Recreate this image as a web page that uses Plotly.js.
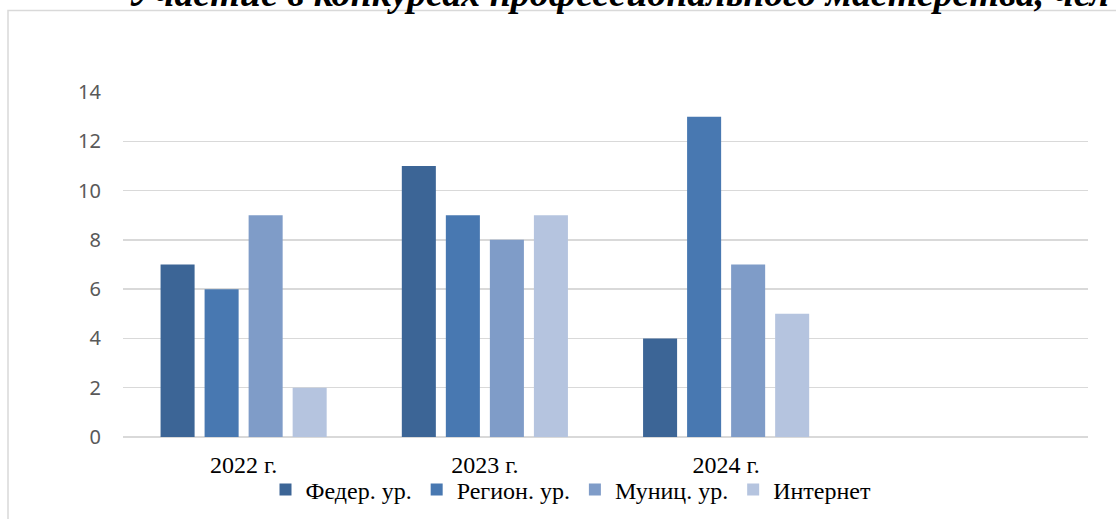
<!DOCTYPE html>
<html>
<head>
<meta charset="utf-8">
<script src="https://cdn.plot.ly/plotly-3.0.1.min.js"></script>
<style>html,body{margin:0;padding:0;background:#fff;}#chart{width:1116px;height:519px;}</style>
</head>
<body>
<div id="chart"></div>
<script>
const categories = ['2022 г.', '2023 г.', '2024 г.'];
const seriesNames = ['Федер. ур.', 'Регион. ур.', 'Муниц. ур.', 'Интернет'];
const federal = [7, 11, 4];
const regional = [6, 9, 13];
const municipal = [9, 8, 7];
const internet = [2, 9, 5];
const colors = ['#3c6596', '#4878b1', '#7f9cc8', '#b5c4df'];
const titleText = 'Участие в конкурсах профессионального мастерства, чел';

const values = [federal, regional, municipal, internet];
const traces = values.map((v, i) => ({
  type: 'bar',
  name: seriesNames[i],
  x: categories,
  y: v,
  marker: {color: colors[i]},
  hoverinfo: 'none'
}));

const L = 123, R = 1088, T = 92, B = 437, W = 1116, H = 519;
const pw = R - L, ph = B - T;
const px = v => (v - L) / pw;
const py = v => (B - v) / ph;

const layout = {
  width: W, height: H,
  margin: {l: L, r: W - R, t: T, b: H - B, pad: 0, autoexpand: false},
  paper_bgcolor: '#ffffff',
  plot_bgcolor: '#ffffff',
  barmode: 'group',
  bargap: 0.27,
  bargroupgap: 0.227,
  showlegend: true,
  legend: {
    orientation: 'h',
    x: px(571), xanchor: 'center',
    y: py(490), yanchor: 'middle',
    font: {family: 'Liberation Serif', size: 24, color: '#000'},
    itemwidth: 30,
    tracegroupgap: 0,
    bgcolor: 'rgba(0,0,0,0)'
  },
  xaxis: {
    type: 'category',
    range: [-0.5, 3.5],
    automargin: false,
    showgrid: false,
    zeroline: false,
    showline: false,
    ticks: '',
    ticklabelstandoff: 11,
    tickfont: {family: 'Liberation Serif', size: 24, color: '#000'},
    fixedrange: true
  },
  yaxis: {
    range: [0, 14],
    dtick: 2,
    tick0: 0,
    automargin: false,
    showgrid: true,
    gridcolor: '#d9d9d9',
    gridwidth: 1.5,
    zeroline: true,
    zerolinecolor: '#d9d9d9',
    zerolinewidth: 1.5,
    showline: false,
    ticks: '',
    ticklabelstandoff: 21,
    tickfont: {family: 'Noto Sans', size: 20, color: '#595959'},
    fixedrange: true
  },
  shapes: [{
    type: 'rect', xref: 'paper', yref: 'paper',
    x0: px(8), x1: px(1130), y0: py(530), y1: py(10.5),
    line: {color: '#d9d9d9', width: 1.5},
    fillcolor: 'rgba(0,0,0,0)', layer: 'below'
  }],
  annotations: [{
    text: '<b><i>' + titleText + '</i></b>',
    xref: 'paper', yref: 'paper',
    x: px(618), xanchor: 'center',
    y: py(-7), yanchor: 'middle',
    showarrow: false,
    font: {family: 'Liberation Serif', size: 38, color: '#000'}
  }]
};

Plotly.newPlot('chart', traces, layout, {displayModeBar: false, staticPlot: true});
</script>
</body>
</html>
